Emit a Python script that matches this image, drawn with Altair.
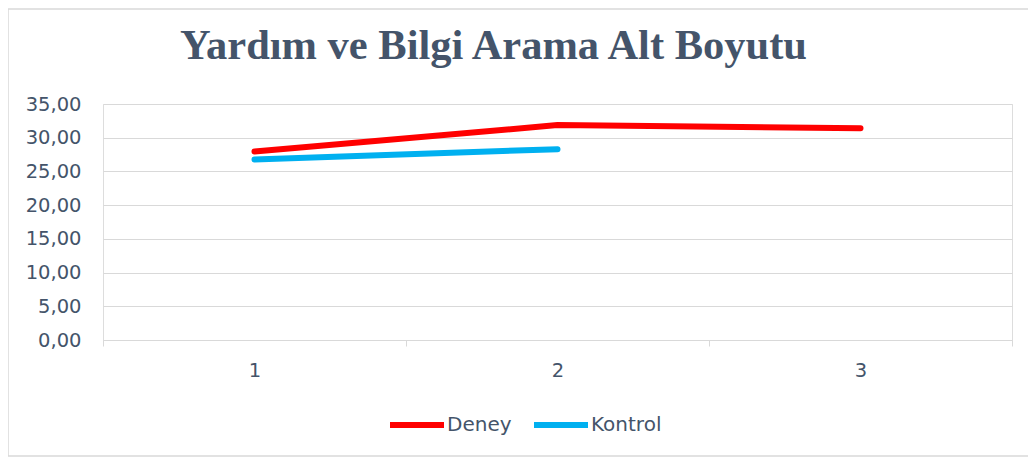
import altair as alt
import pandas as pd

categories = ["1", "2", "3"]
series_names = ["Deney", "Kontrol"]
deney = [27.95, 31.87, 31.40]
kontrol = [26.77, 28.30]
colors = ["#FF0000", "#00B0F0"]
y_ticks = [0, 5, 10, 15, 20, 25, 30, 35]
title_text = "Yardım ve Bilgi Arama Alt Boyutu"

rows = []
for c, v in zip(categories, deney):
    rows.append({"kategori": c, "seri": "Deney", "deger": v})
for c, v in zip(categories, kontrol):
    rows.append({"kategori": c, "seri": "Kontrol", "deger": v})
df = pd.DataFrame(rows)

text_color = "#44546A"
grid_color = "#D9D9D9"
label_font = "DejaVu Sans"
fs = 19.5

W, H = 909, 236

lines = alt.Chart(df).mark_line(strokeWidth=6, strokeCap="round", strokeJoin="round").encode(
    x=alt.X(
        "kategori:N",
        sort=categories,
        scale=alt.Scale(type="band", paddingInner=0, paddingOuter=0),
        bandPosition=0.5,
        axis=alt.Axis(
            title=None,
            labelAngle=0,
            tickBand="extent",
            domainColor=grid_color,
            tickColor=grid_color,
            tickSize=6,
            labelPadding=15,
            labelFont=label_font,
            labelFontSize=fs,
            labelColor=text_color,
            grid=False,
        ),
    ),
    y=alt.Y(
        "deger:Q",
        scale=alt.Scale(domain=[0, 35], nice=False),
        axis=alt.Axis(
            title=None,
            values=y_ticks,
            labelExpr="replace(format(datum.value, '.2f'), '.', ',')",
            domain=False,
            ticks=False,
            labelPadding=22,
            labelFont=label_font,
            labelFontSize=fs,
            labelColor=text_color,
            gridColor=grid_color,
            gridWidth=1,
        ),
    ),
    color=alt.Color(
        "seri:N",
        scale=alt.Scale(domain=series_names, range=colors),
        legend=alt.Legend(
            title=None,
            orient="none",
            direction="horizontal",
            legendX=284,
            legendY=291,
            symbolType="stroke",
            symbolSize=2916,
            symbolStrokeWidth=6,
            labelFont=label_font,
            labelFontSize=20,
            labelColor=text_color,
            labelOffset=0,
            columnPadding=10,
        ),
    ),
)

border = alt.Chart(pd.DataFrame({"a": [0]})).mark_rect(
    fill=None, stroke=grid_color, strokeWidth=1.5, clip=False
).encode(
    x=alt.value(-95), x2=alt.value(W + 60), y=alt.value(-95), y2=alt.value(352)
)

title = alt.Chart(pd.DataFrame({"t": [title_text]})).mark_text(
    font="Liberation Serif",
    fontSize=42.5,
    fontWeight="bold",
    color=text_color,
    align="center",
    baseline="alphabetic",
).encode(
    text="t:N", x=alt.value(W / 2 - 64), y=alt.value(-45)
)

chart = alt.layer(border, lines, title).properties(
    width=W,
    height=H,
    autosize=alt.AutoSizeParams(type="none"),
    padding={"left": 95, "top": 96, "right": 16, "bottom": 117},
).configure_view(stroke=None).configure(background="white")

chart.save("out.html", embed_options={"renderer": "svg", "actions": False})
